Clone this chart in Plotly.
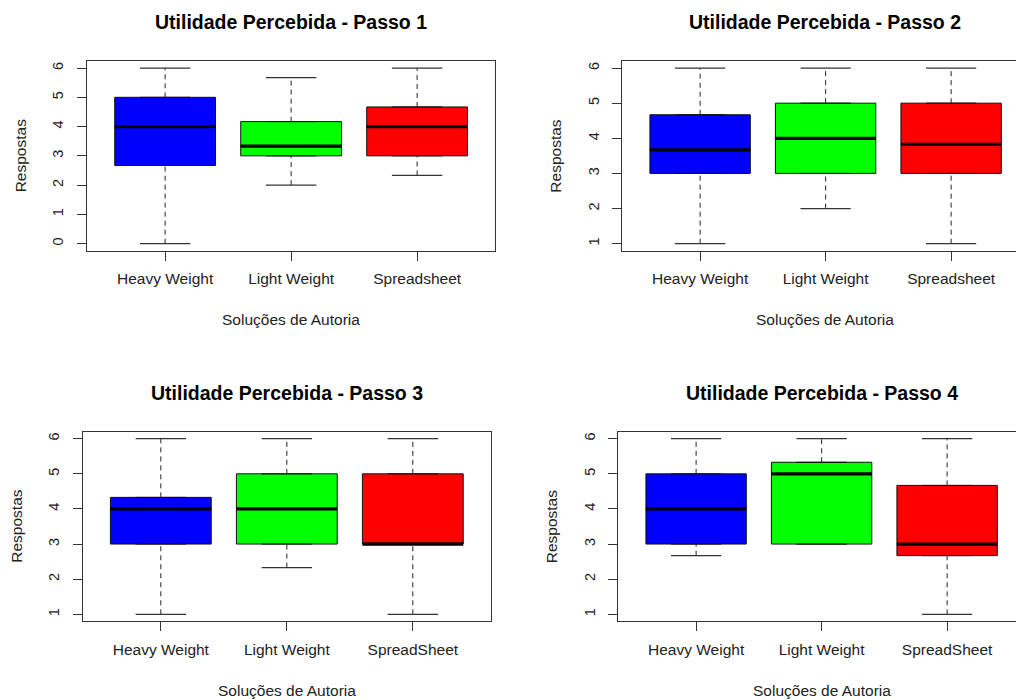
import plotly.graph_objects as go

# ---------------- data ----------------
titles = ["Utilidade Percebida - Passo 1", "Utilidade Percebida - Passo 2",
          "Utilidade Percebida - Passo 3", "Utilidade Percebida - Passo 4"]
cats_12 = ["Heavy Weight", "Light Weight", "Spreadsheet"]
cats_34 = ["Heavy Weight", "Light Weight", "SpreadSheet"]
box_colors = ["#0000FF", "#00FF00", "#FF0000"]
x_title = "Soluções de Autoria"
y_title = "Respostas"

# per panel, per category: [lower whisker, q1, median, q3, upper whisker]
p1_lower = [0, 2, 2.33]
p1_q1 = [2.67, 3, 3]
p1_med = [4, 3.33, 4]
p1_q3 = [5, 4.17, 4.67]
p1_upper = [6, 5.67, 6]

p2_lower = [1, 2, 1]
p2_q1 = [3, 3, 3]
p2_med = [3.67, 4, 3.83]
p2_q3 = [4.67, 5, 5]
p2_upper = [6, 6, 6]

p3_lower = [1, 2.33, 1]
p3_q1 = [3, 3, 3]
p3_med = [4, 4, 3]
p3_q3 = [4.33, 5, 5]
p3_upper = [6, 6, 6]

p4_lower = [2.67, 3, 1]
p4_q1 = [3, 3, 2.67]
p4_med = [4, 5, 3]
p4_q3 = [5, 5.33, 4.67]
p4_upper = [6, 6, 6]

y_ticks_1 = [0, 1, 2, 3, 4, 5, 6]
y_ticks_234 = [1, 2, 3, 4, 5, 6]

# ---------------- layout geometry (pixels) ----------------
W, H = 1016, 700
FONT = "Liberation Sans, Arial, sans-serif"
# left, right, top, bottom of each plotting region
regions = [(87, 495, 61, 250.7), (622.3, 1016, 61, 250.7),
           (82.7, 490.7, 431.7, 621.3), (618.3, 1016, 431.7, 621.3)]
unit_px = [126.0, 125.5, 126.0, 125.5]  # pixels per x unit
full_center = [291, 825, 286.7, 822]

panels = [
    (cats_12, p1_lower, p1_q1, p1_med, p1_q3, p1_upper, [-0.24, 6.24], y_ticks_1),
    (cats_12, p2_lower, p2_q1, p2_med, p2_q3, p2_upper, [0.8, 6.2], y_ticks_234),
    (cats_34, p3_lower, p3_q1, p3_med, p3_q3, p3_upper, [0.8, 6.2], y_ticks_234),
    (cats_34, p4_lower, p4_q1, p4_med, p4_q3, p4_upper, [0.8, 6.2], y_ticks_234),
]

fig = go.Figure()
annotations = []
layout_axes = {}

for i, (cats, lo, q1, med, q3, up, yr, yt) in enumerate(panels):
    n = i + 1
    xa = "x" if n == 1 else f"x{n}"
    ya = "y" if n == 1 else f"y{n}"
    L, R, T, B = regions[i]
    xpos = list(range(1, len(cats) + 1))
    for j, c in enumerate(cats):
        x0 = xpos[j]
        # whiskers (dashed)
        fig.add_trace(go.Scatter(x=[x0, x0], y=[q3[j], up[j]], mode="lines",
                                 line=dict(color="#222", width=1, dash="5px,4px"),
                                 xaxis=xa, yaxis=ya, showlegend=False, hoverinfo="skip"))
        fig.add_trace(go.Scatter(x=[x0, x0], y=[lo[j], q1[j]], mode="lines",
                                 line=dict(color="#222", width=1, dash="5px,4px"),
                                 xaxis=xa, yaxis=ya, showlegend=False, hoverinfo="skip"))
        # staples
        for v in (lo[j], up[j]):
            fig.add_trace(go.Scatter(x=[x0 - 0.2, x0 + 0.2], y=[v, v], mode="lines",
                                     line=dict(color="#333", width=1.2),
                                     xaxis=xa, yaxis=ya, showlegend=False, hoverinfo="skip"))
        # box body
        fig.add_trace(go.Box(x=[x0], q1=[q1[j]], median=[med[j]], q3=[q3[j]],
                             lowerfence=[q1[j]], upperfence=[q3[j]],
                             width=0.8, fillcolor=box_colors[j],
                             line=dict(color="#111", width=1),
                             xaxis=xa, yaxis=ya, showlegend=False, name=c,
                             hoverinfo="skip"))
        # thick median
        fig.add_trace(go.Scatter(x=[x0 - 0.4, x0 + 0.4], y=[med[j], med[j]], mode="lines",
                                 line=dict(color="black", width=3.2),
                                 xaxis=xa, yaxis=ya, showlegend=False, hoverinfo="skip"))

    # axes
    x_right = 0.38 + (R - L) / unit_px[i]
    is_right = n in (2, 4)
    xkey = "xaxis" if n == 1 else f"xaxis{n}"
    ykey = "yaxis" if n == 1 else f"yaxis{n}"
    layout_axes[xkey] = dict(
        domain=[L / W, R / W], anchor=ya, range=[0.38, x_right],
        tickmode="array", tickvals=xpos, ticktext=cats,
        ticks="outside", ticklen=9, tickcolor="#333", tickwidth=1,
        showline=True, linecolor="#333", linewidth=1, mirror=True,
        showgrid=False, zeroline=False, fixedrange=True,
        tickfont=dict(family=FONT, size=15.5, color="#222"),
        ticklabelstandoff=5,
    )
    layout_axes[ykey] = dict(
        domain=[1 - B / H, 1 - T / H], anchor=xa, range=yr,
        tickmode="array", tickvals=yt, ticktext=[str(v) for v in yt],
        ticks="outside", ticklen=9, tickcolor="#333", tickwidth=1,
        showline=True, linecolor="#333", linewidth=1, mirror=(not is_right),
        showgrid=False, zeroline=False, fixedrange=True, tickangle=-90,
        tickfont=dict(family=FONT, size=14.5, color="#222"),
        ticklabelstandoff=8,
    )

    # title
    annotations.append(dict(text=f"<b>{titles[i]}</b>", xref="paper", yref="paper",
                            x=full_center[i] / W, y=1 - (T - 39) / H,
                            xanchor="center", yanchor="middle", showarrow=False,
                            font=dict(family=FONT, size=19.5, color="black")))
    # x axis title
    annotations.append(dict(text=x_title, xref="paper", yref="paper",
                            x=full_center[i] / W, y=1 - (B + 69) / H,
                            xanchor="center", yanchor="middle", showarrow=False,
                            font=dict(family=FONT, size=15.5, color="#222")))
    # y axis title
    annotations.append(dict(text=y_title, xref="paper", yref="paper",
                            x=(L - 66.5) / W, y=1 - ((T + B) / 2) / H,
                            xanchor="center", yanchor="middle", showarrow=False,
                            textangle=-90,
                            font=dict(family=FONT, size=15.5, color="#222")))

fig.update_layout(
    width=W, height=H, margin=dict(l=0, r=0, t=0, b=0),
    paper_bgcolor="white", plot_bgcolor="white",
    boxmode="overlay", showlegend=False,
    annotations=annotations, **layout_axes,
)

fig.write_html("out.html", config={"displayModeBar": False},
               post_script="document.body.style.margin='0';document.body.style.overflow='hidden';")
